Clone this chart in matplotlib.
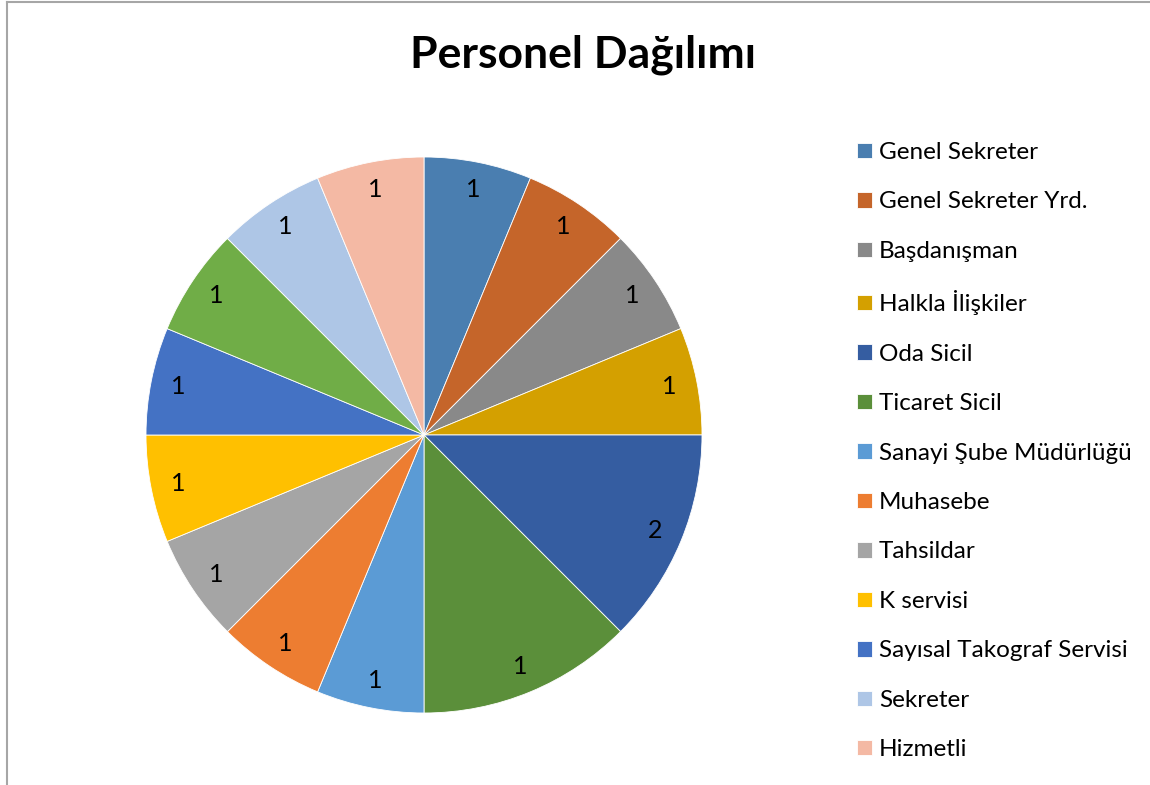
import matplotlib
matplotlib.use("Agg")
import matplotlib.pyplot as plt
from matplotlib.lines import Line2D
import numpy as np

plt.rcParams['font.family'] = ['Lato', 'DejaVu Sans']

# slice names, in drawing order (the green slice has no legend entry in the original)
categories = ['Genel Sekreter', 'Genel Sekreter Yrd.', 'Başdanışman', 'Halkla İlişkiler',
              'Oda Sicil', 'Ticaret Sicil', 'Sanayi Şube Müdürlüğü', 'Muhasebe',
              'Tahsildar', 'K servisi', 'Sayısal Takograf Servisi', '',
              'Sekreter', 'Hizmetli']
values = [1, 1, 1, 1, 2, 2, 1, 1, 1, 1, 1, 1, 1, 1]
value_labels = ['1', '1', '1', '1', '2', '1', '1', '1', '1', '1', '1', '1', '1', '1']
colors = ['#4A7EB0', '#C5652A', '#898989', '#D4A000', '#355DA1', '#5B8F3A', '#5B9BD5',
          '#ED7D31', '#A5A5A5', '#FFC000', '#4472C4', '#70AD47', '#AEC6E6', '#F4B9A4']

W, H = 1150, 785
fig = plt.figure(figsize=(W / 100, H / 100), dpi=100)

# pie axes: centre (424, 435) px, radius 278 px
cx, cy, r = 424, 435, 278
ax = fig.add_axes([(cx - r) / W, (H - cy - r) / H, 2 * r / W, 2 * r / H])
wedges, _ = ax.pie(values, colors=colors, startangle=90, counterclock=False,
                   radius=1, wedgeprops=dict(edgecolor='white', linewidth=0.6))
ax.set_xlim(-1, 1)
ax.set_ylim(-1, 1)
ax.set_aspect('equal')
ax.axis('off')

# data labels inside the slices
for w, lab in zip(wedges, value_labels):
    ang = np.deg2rad((w.theta1 + w.theta2) / 2)
    ax.text(0.9 * np.cos(ang), 0.9 * np.sin(ang), lab, ha='center', va='center',
            fontsize=18, color='#000000')

fig.text(583 / W, 1 - 55 / H, 'Personel Dağılımı', ha='center', va='center',
         fontsize=32, fontweight='bold', color='#000000')

handles = [w for w, c in zip(wedges, categories) if c]
labels = [c for c in categories if c]
fig.legend(handles, labels, loc='upper left', bbox_to_anchor=(857 / W, 1 - 142 / H),
           frameon=False, fontsize=17.5, handlelength=0.6, handleheight=0.6,
           handletextpad=0.3, labelspacing=1.17, borderaxespad=0, borderpad=0)

# chart frame (only left and top edges visible)
fig.add_artist(Line2D([6.5 / W, 6.5 / W], [0, 1 - 1.5 / H], transform=fig.transFigure,
                      color='#A6A6A6', linewidth=1.5))
fig.add_artist(Line2D([6.5 / W, 1], [1 - 1.5 / H, 1 - 1.5 / H], transform=fig.transFigure,
                      color='#A6A6A6', linewidth=1.5))

fig.savefig('out.png', dpi=100, facecolor='white')
